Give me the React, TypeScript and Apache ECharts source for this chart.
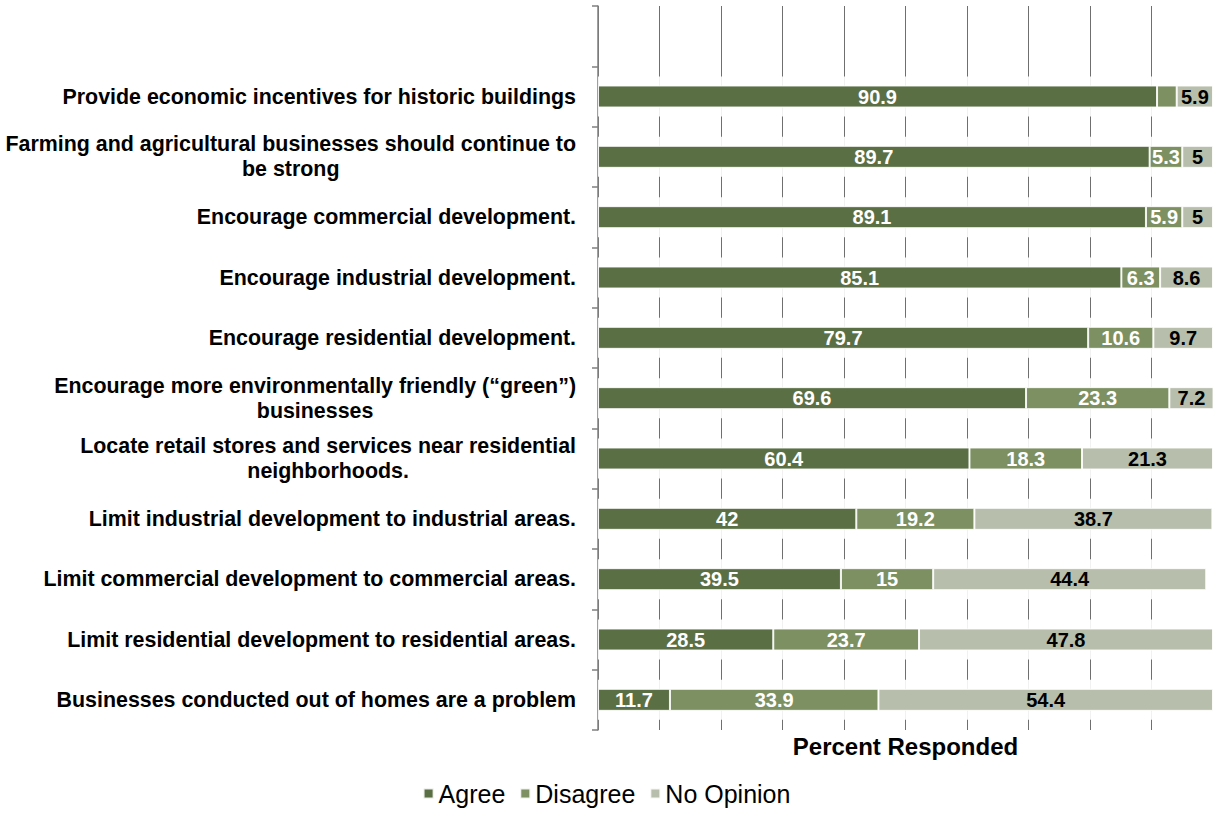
import React, { useEffect, useRef } from "react";
import * as echarts from "echarts";

const categories = [
  "",
  "Provide economic incentives for historic buildings",
  "Farming and agricultural businesses should continue to\nbe strong",
  "Encourage commercial development.",
  "Encourage industrial development.",
  "Encourage residential development.",
  "Encourage more environmentally friendly (\u201cgreen\u201d)\nbusinesses",
  "Locate retail stores and services near residential\nneighborhoods.",
  "Limit industrial development to industrial areas.",
  "Limit commercial development to commercial areas.",
  "Limit residential development to residential areas.",
  "Businesses conducted out of homes are a problem",
];

const agree = [null, 90.9, 89.7, 89.1, 85.1, 79.7, 69.6, 60.4, 42, 39.5, 28.5, 11.7];
const disagree = [null, 3.2, 5.3, 5.9, 6.3, 10.6, 23.3, 18.3, 19.2, 15, 23.7, 33.9];
const noOpinion = [null, 5.9, 5, 5, 8.6, 9.7, 7.2, 21.3, 38.7, 44.4, 47.8, 54.4];
const hiddenLabels = { Disagree: [1] };
const axisMax = 100;

const FONT = "'Liberation Sans', Arial, sans-serif";

export default function App() {
  const ref = useRef<HTMLDivElement>(null);
  useEffect(() => {
    if (!ref.current) return;
    const chart = echarts.init(ref.current, undefined, { renderer: "svg" });
    const mk = (name: string, data: (number | null)[], color: string, labelColor: string) => ({
      name,
      type: "bar",
      stack: "total",
      barWidth: 22,
      z: 5,
      data: data.map((v, i) => ({
        value: v,
        label: { show: !((hiddenLabels as any)[name] || []).includes(i) },
      })),
      itemStyle: {
        color,
        borderColor: "rgba(255,255,255,0.85)",
        borderWidth: 1,
      },
      label: {
        show: true,
        position: "inside",
        color: labelColor,
        fontFamily: FONT,
        fontWeight: "bold",
        fontSize: 20,
        formatter: (p: any) => String(p.value),
      },
    });
    chart.setOption({
      animation: false,
      backgroundColor: "#ffffff",
      grid: { left: 598, top: 6, width: 618, height: 724, containLabel: false },
      legend: {
        left: "center",
        top: 776,
        itemWidth: 10,
        itemHeight: 10,
        itemGap: 14,
        icon: "rect",
        textStyle: { fontFamily: FONT, fontSize: 25, color: "#000" },
        data: ["Agree", "Disagree", "No Opinion"],
      },
      xAxis: {
        type: "value",
        min: 0,
        max: axisMax,
        interval: 10,
        axisLine: { show: false },
        axisTick: { show: false },
        axisLabel: { show: false },
        splitLine: { show: true, lineStyle: { color: "#6f6f6f", width: 1 } },
        name: "Percent Responded",
        nameLocation: "middle",
        nameGap: 4,
        nameTextStyle: { fontFamily: FONT, fontWeight: "bold", fontSize: 24, color: "#000", verticalAlign: "top" },
      },
      yAxis: [
        {
          type: "category",
          inverse: true,
          data: categories,
          axisLine: { show: true, lineStyle: { color: "#7f7f7f", width: 1.5 } },
          axisTick: { show: true, length: 6, lineStyle: { color: "#7f7f7f", width: 1.5 } },
          axisLabel: {
            margin: 22,
            align: "right",
            formatter: (v: string) => (v ? v.split("\n").map((l) => `{c|${l}}`).join("\n") : ""),
            rich: {
              c: {
                align: "center",
                fontFamily: FONT,
                fontWeight: "bold",
                fontSize: 21.4,
                color: "#000",
                lineHeight: 25,
              },
            },
          },
        },
        {
          type: "category",
          inverse: true,
          data: categories,
          show: false,
        },
      ],
      series: [
        {
          name: "halo",
          type: "bar",
          yAxisIndex: 1,
          barWidth: 40,
          z: 3,
          silent: true,
          data: categories.map((c) => (c ? axisMax : null)),
          itemStyle: { color: "#ffffff", opacity: 0.9 },
          label: { show: false },
        },
        mk("Agree", agree, "#5b6f45", "#ffffff"),
        mk("Disagree", disagree, "#7c9062", "#ffffff"),
        mk("No Opinion", noOpinion, "#b7beac", "#000000"),
      ],
    });
    return () => chart.dispose();
  }, []);
  return (
    <div
      ref={ref}
      style={{ position: "fixed", left: 0, top: 0, width: 1213, height: 832, background: "#fff" }}
    />
  );
}
